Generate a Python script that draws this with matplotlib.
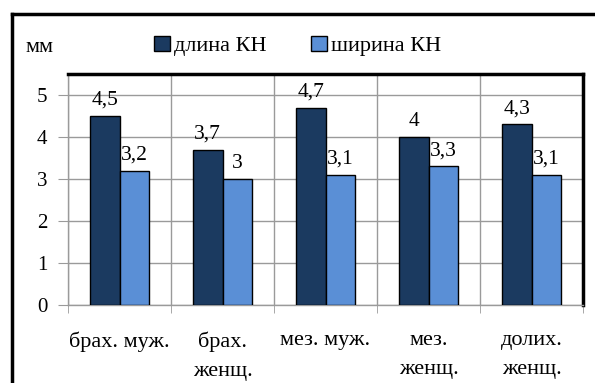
import numpy as np
import matplotlib
matplotlib.use('Agg')
from matplotlib import pyplot as plt
from matplotlib.patches import Patch
from matplotlib.lines import Line2D

categories = ['брах. муж.', 'брах.\nженщ.', 'мез. муж.', 'мез.\nженщ.', 'долих.\nженщ.']
length_kn = [4.5, 3.7, 4.7, 4.0, 4.3]
width_kn = [3.2, 3.0, 3.1, 3.3, 3.1]
series_names = ['длина КН', 'ширина КН']
y_ticks = [0, 1, 2, 3, 4, 5]

dark = '#1b3a60'
light = '#5a8fd6'
grid_col = '#9a9a9a'

plt.rcParams['font.family'] = ['Liberation Serif', 'DejaVu Serif']
plt.rcParams['font.size'] = 15

fig = plt.figure(figsize=(5.95, 3.83), dpi=100)
ax = fig.add_axes([68 / 595, 1 - 305 / 383, (583 - 68) / 595, (305 - 74) / 383])

x = np.arange(len(categories))
w = 0.29
b1 = ax.bar(x - w / 2, length_kn, w, color=dark, edgecolor='black', linewidth=1, zorder=3)
b2 = ax.bar(x + w / 2, width_kn, w, color=light, edgecolor='black', linewidth=1, zorder=3)

# data labels with comma decimal separator
def fmt(v):
    return ('%g' % v).replace('.', ',')

for bars, vals in ((b1, length_kn), (b2, width_kn)):
    for r, v in zip(bars, vals):
        ax.annotate(fmt(v), (r.get_x() + r.get_width() / 2, v), xytext=(0, 8),
                    textcoords='offset points', ha='center', va='baseline', zorder=4,
                    fontsize=15.5)

ax.set_xlim(-0.5, len(categories) - 0.5)
ax.set_ylim(0, 5.5)
ax.set_yticks(y_ticks)
ax.set_xticks(x)
ax.set_xticklabels(categories, linespacing=1.7, fontsize=16)
ax.set_xticks(np.arange(len(categories) + 1) - 0.5, minor=True)

ax.tick_params(axis='x', which='major', length=0, pad=19)
ax.tick_params(axis='x', which='minor', length=6, color=grid_col, direction='out')
ax.tick_params(axis='y', length=7, color=grid_col, pad=8, labelsize=15)

ax.yaxis.grid(True, color=grid_col, linewidth=1, zorder=0)
ax.xaxis.grid(True, which='minor', color=grid_col, linewidth=1, zorder=0)
ax.set_axisbelow(True)

for s in ('top', 'right'):
    ax.spines[s].set_color('black')
    ax.spines[s].set_linewidth(2.5)
for s in ('left', 'bottom'):
    ax.spines[s].set_color(grid_col)
    ax.spines[s].set_linewidth(1)

# outer chart frame (cut off on the right and bottom)
fig.add_artist(Line2D([12 / 595, 12 / 595], [0, 1 - 14 / 383], color='black', linewidth=2.5))
fig.add_artist(Line2D([12 / 595, 1], [1 - 14 / 383, 1 - 14 / 383], color='black', linewidth=2.5))

fig.text(25 / 595, 1 - 48 / 383, 'мм', ha='left', va='center', fontsize=16)

handles = [Patch(facecolor=dark, edgecolor='black'), Patch(facecolor=light, edgecolor='black')]
fig.legend(handles, series_names, loc='center', bbox_to_anchor=(298 / 595, 1 - 46 / 383),
           ncol=2, frameon=False, handlelength=0.7, handleheight=0.7, handletextpad=0.2,
           columnspacing=2.0, fontsize=16)

fig.savefig('out.png', dpi=100)
